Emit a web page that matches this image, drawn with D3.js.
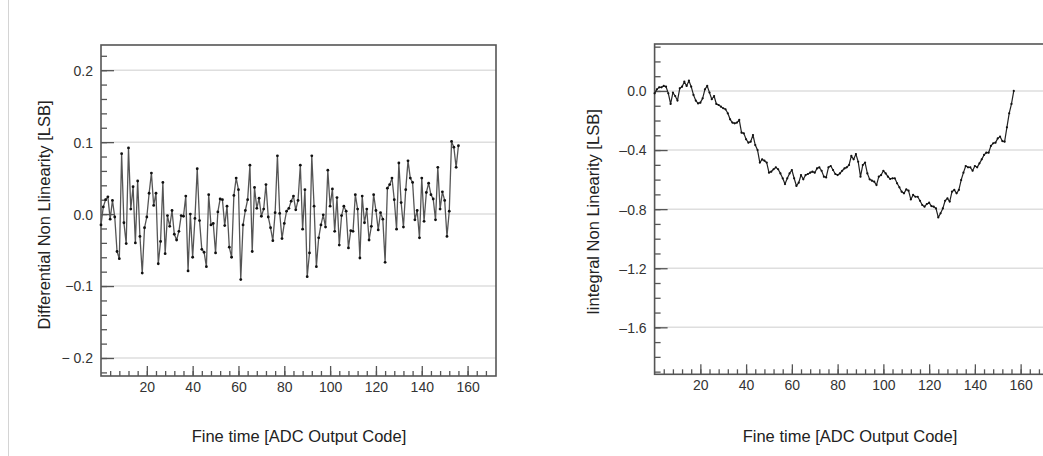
<!DOCTYPE html>
<html>
<head>
<meta charset="utf-8">
<script src="https://cdn.jsdelivr.net/npm/d3@7"></script>
<style>
    body { margin: 0; background: #fff; }
    svg { display: block; font-family: "Liberation Sans", Arial, Helvetica, sans-serif; }
</style>
</head>
<body>
<svg id="chart" width="1043" height="456"></svg>
<script>
// DNL per fine time code (codes 0..156)
const dnlValues = [
    -0.015, 0.010, 0.020, 0.024, -0.007, 0.019, -0.004, -0.052, -0.062, 0.084,
    -0.012, -0.041, 0.092, 0.007, 0.038, -0.040, 0.046, -0.031, -0.082, -0.019,
    -0.004, 0.029, 0.057, 0.012, 0.029, -0.069, -0.038, 0.044, -0.055, -0.002,
    -0.017, 0.005, -0.028, -0.036, -0.024, -0.002, -0.003, 0.025, -0.079, 0.000,
    -0.060, -0.006, 0.063, -0.009, -0.049, -0.053, -0.073, 0.027, -0.015, -0.013,
    -0.054, 0.003, 0.021, 0.020, -0.016, 0.011, -0.046, -0.060, 0.026, 0.050,
    0.034, -0.091, -0.015, 0.005, 0.020, 0.068, -0.052, 0.037, 0.008, 0.022,
    -0.003, 0.007, 0.041, -0.004, -0.019, -0.037, 0.002, 0.081, 0.001, -0.034,
    -0.013, 0.004, 0.008, 0.018, 0.025, 0.006, 0.019, 0.068, -0.021, 0.034,
    -0.087, -0.054, 0.081, 0.011, -0.073, -0.033, -0.015, -0.001, -0.018, 0.061,
    0.011, 0.035, -0.024, 0.023, -0.043, -0.002, 0.011, 0.004, -0.047, -0.023,
    -0.024, 0.027, 0.007, -0.061, 0.025, -0.012, 0.007, -0.036, -0.017, 0.027,
    0.005, -0.022, 0.002, -0.007, -0.067, 0.036, 0.041, 0.050, 0.020, -0.021,
    0.071, 0.016, -0.018, 0.034, 0.074, 0.050, 0.044, -0.008, 0.005, -0.033,
    0.050, -0.010, 0.030, 0.043, 0.027, 0.021, -0.008, 0.065, 0.007, 0.031,
    0.019, -0.031, 0.004, 0.101, 0.093, 0.065, 0.095
];

// INL per fine time code (codes 0..157)
const inlValues = [
    -0.016, 0.011, 0.025, 0.025, 0.034, 0.029, -0.016, -0.088, -0.011, -0.034,
    -0.065, 0.018, 0.029, 0.063, 0.034, 0.070, 0.029, -0.027, -0.065, -0.084,
    -0.079, -0.050, 0.011, 0.034, -0.011, -0.056, -0.034, -0.088, -0.095, -0.106,
    -0.117, -0.124, -0.151, -0.192, -0.214, -0.219, -0.214, -0.196, -0.282, -0.287,
    -0.327, -0.350, -0.343, -0.298, -0.366, -0.400, -0.485, -0.463, -0.472, -0.485,
    -0.553, -0.546, -0.530, -0.517, -0.530, -0.558, -0.591, -0.630, -0.591, -0.558,
    -0.535, -0.591, -0.643, -0.621, -0.569, -0.598, -0.569, -0.562, -0.553, -0.546,
    -0.553, -0.524, -0.517, -0.540, -0.580, -0.585, -0.517, -0.508, -0.535, -0.562,
    -0.569, -0.558, -0.540, -0.524, -0.517, -0.501, -0.440, -0.463, -0.427, -0.479,
    -0.580, -0.501, -0.485, -0.558, -0.598, -0.607, -0.614, -0.637, -0.580, -0.569,
    -0.540, -0.558, -0.580, -0.596, -0.591, -0.591, -0.625, -0.652, -0.682, -0.693,
    -0.666, -0.675, -0.734, -0.704, -0.716, -0.716, -0.743, -0.772, -0.783, -0.765,
    -0.756, -0.779, -0.783, -0.795, -0.856, -0.828, -0.795, -0.743, -0.727, -0.749,
    -0.682, -0.670, -0.693, -0.670, -0.603, -0.553, -0.508, -0.517, -0.517, -0.540,
    -0.508, -0.517, -0.490, -0.463, -0.433, -0.418, -0.418, -0.372, -0.354, -0.350,
    -0.321, -0.309, -0.339, -0.343, -0.246, -0.151, -0.088, 0.000
];

const xTicks = [20, 40, 60, 80, 100, 120, 140, 160];
const xTickLabels = ["20", "40", "60", "80", "100", "120", "140", "160"];
const dnlTicks = [-0.2, -0.1, 0, 0.1, 0.2];
const dnlTickLabels = ["\u2212 0.2", "\u22120.1", "0.0", "0.1", "0.2"];
const inlTicks = [-1.6, -1.2, -0.8, -0.4, 0];
const inlTickLabels = ["\u20131.6", "\u20131.2", "\u20130.8", "\u20130.4", "0.0"];

const xLabel = "Fine time [ADC Output Code]";
const dnlLabel = "Differential Non Llinearity [LSB]";
const inlLabel = "Iintegral Non Linearity [LSB]";

const svg = d3.select("svg#chart");

// thin page margin line on the far left
svg.append("line")
    .attr("x1", 8.5).attr("x2", 8.5).attr("y1", 0).attr("y2", 456)
    .attr("stroke", "#d4d4d4").attr("stroke-width", 1);

function drawPanel(opt) {
    const x = d3.scaleLinear().domain(opt.xDomain).range([opt.left, opt.right]);
    const y = d3.scaleLinear().domain(opt.yDomain).range([opt.bottom, opt.top]);
    const g = svg.append("g");

    // grid lines at major y ticks
    g.selectAll("line.grid").data(opt.yTicks).enter().append("line")
        .attr("class", "grid")
        .attr("x1", opt.left).attr("x2", opt.right)
        .attr("y1", d => y(d)).attr("y2", d => y(d))
        .attr("stroke", "#dedede").attr("stroke-width", 1.5);

    // minor y ticks
    const yAxisMinor = d3.axisRight(y).tickValues(opt.yMinor).tickSize(6).tickFormat("");
    g.append("g").attr("transform", `translate(${opt.left},0)`).call(yAxisMinor)
        .call(a => a.select(".domain").remove());

    // major y ticks, pointing inwards, labels outside
    const yAxis = d3.axisRight(y).tickValues(opt.yTicks).tickSize(13)
        .tickFormat((d, i) => opt.yTickLabels[i]);
    g.append("g").attr("transform", `translate(${opt.left},0)`).call(yAxis)
        .call(a => a.select(".domain").remove())
        .call(a => a.selectAll("text")
            .attr("x", -8).attr("dy", "0.35em")
            .style("text-anchor", "end"));

    // x ticks
    const xAxisMinor = d3.axisTop(x).tickValues(opt.xMinor).tickSize(5).tickFormat("");
    g.append("g").attr("transform", `translate(0,${opt.bottom})`).call(xAxisMinor)
        .call(a => a.select(".domain").remove());
    const xAxis = d3.axisTop(x).tickValues(xTicks).tickSize(10)
        .tickFormat((d, i) => xTickLabels[i]);
    g.append("g").attr("transform", `translate(0,${opt.bottom})`).call(xAxis)
        .call(a => a.select(".domain").remove())
        .call(a => a.selectAll("text").attr("y", 6).attr("dy", "0.71em"));

    g.selectAll(".tick line").attr("stroke", "#555").attr("stroke-width", 1.3);
    g.selectAll(".tick text").attr("fill", "#333").attr("font-size", 14)
        .attr("font-family", "Liberation Sans, Arial, sans-serif");

    // frame
    g.append("rect")
        .attr("x", opt.left).attr("y", opt.top)
        .attr("width", opt.right - opt.left).attr("height", opt.bottom - opt.top)
        .attr("fill", "none").attr("stroke", "#555").attr("stroke-width", 1.6);

    // the series
    const pts = opt.values.map((v, i) => ({ code: i, value: v }));
    const line = d3.line().x(d => x(d.code)).y(d => y(d.value));
    g.append("path").datum(pts)
        .attr("d", line)
        .attr("fill", "none")
        .attr("stroke", opt.lineColor)
        .attr("stroke-width", opt.lineWidth)
        .attr("stroke-linejoin", "round");
    g.selectAll("circle").data(pts).enter().append("circle")
        .attr("cx", d => x(d.code)).attr("cy", d => y(d.value))
        .attr("r", opt.dotR).attr("fill", "#111");

    // axis titles
    svg.append("text")
        .attr("x", opt.xLabelX)
        .attr("y", 442)
        .attr("text-anchor", "middle")
        .attr("font-size", 16.5).attr("fill", "#222")
        .text(xLabel);
    svg.append("text")
        .attr("transform", `translate(${opt.yLabelX},${opt.yLabelY}) rotate(-90)`)
        .attr("text-anchor", "middle")
        .attr("font-size", 16.5).attr("fill", "#222")
        .text(opt.yLabel);
}

drawPanel({
    values: dnlValues,
    left: 101, right: 496, top: 45, bottom: 376,
    xDomain: [0, 172.4], yDomain: [-0.225, 0.235],
    yTicks: dnlTicks, yTickLabels: dnlTickLabels,
    yMinor: d3.range(-0.22, 0.235, 0.02),
    xMinor: d3.range(4, 172, 4),
    lineColor: "#555", lineWidth: 1.3, dotR: 1.4,
    yLabel: dnlLabel, yLabelX: 50, yLabelY: 215, xLabelX: 299
});

drawPanel({
    values: inlValues,
    left: 654.6, right: 1049, top: 44, bottom: 374.3,
    xDomain: [0, 172.4], yDomain: [-1.918, 0.318],
    yTicks: inlTicks, yTickLabels: inlTickLabels,
    yMinor: d3.range(-1.9, 0.318, 0.1),
    xMinor: d3.range(4, 172, 4),
    lineColor: "#222", lineWidth: 1.2, dotR: 1.1,
    yLabel: inlLabel, yLabelX: 599, yLabelY: 212, xLabelX: 850
});
</script>
</body>
</html>
